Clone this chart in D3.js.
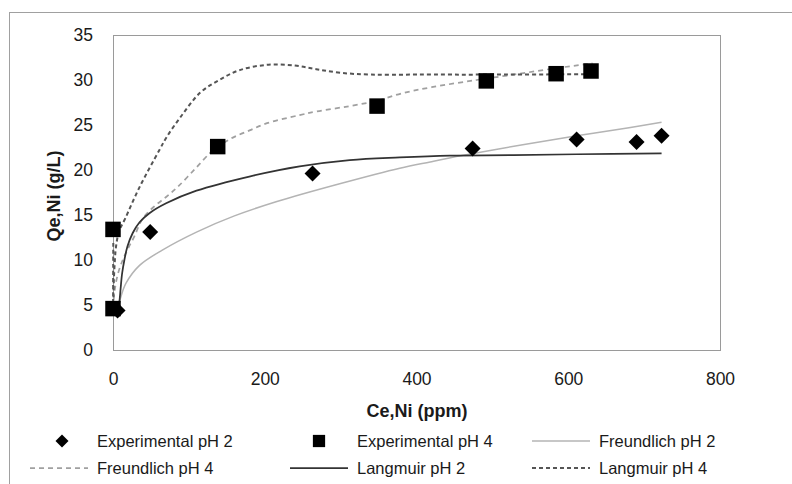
<!DOCTYPE html>
<html>
<head>
<meta charset="utf-8">
<script src="https://cdn.jsdelivr.net/npm/d3@7"></script>
<style>
  body { margin: 0; background: #fff; }
  text { font-family: 'Liberation Sans', Arial, sans-serif; fill: #1a1a1a; }
</style>
</head>
<body>
<div id="chart"></div>
<script>
// experimental points (Ce in ppm, Qe in g/L)
const expPh2C = [6, 49, 263, 474, 611, 690, 723];
const expPh2Q = [4.4, 13.1, 19.6, 22.4, 23.4, 23.1, 23.8];
const expPh4C = [0, 0, 138, 348, 492, 584, 630];
const expPh4Q = [13.4, 4.6, 22.6, 27.1, 29.9, 30.7, 31.0];

// model curves
const freundPh2C = [6, 10, 17, 35, 65, 110, 160, 216, 300, 378, 418, 460, 540, 611, 680, 723];
const freundPh2Q = [4.4, 5.8, 7.4, 9.4, 11.1, 13.1, 14.9, 16.5, 18.5, 20.2, 20.9, 21.6, 22.8, 23.8, 24.7, 25.3];
const langPh2C = [6, 8.3, 10, 12, 15, 19, 26, 35, 48, 70, 110, 181, 246, 312, 378, 444, 523, 611, 723];
const langPh2Q = [4.4, 5.3, 6.8, 8.5, 10, 11.5, 13, 14.2, 15.2, 16.3, 17.7, 19.3, 20.4, 21.1, 21.4, 21.6, 21.65, 21.75, 21.85];
const freundPh4C = [0.3, 1.7, 6, 12.8, 20, 28, 39, 55, 70, 85, 109, 128, 137, 158, 180, 203, 246, 268, 312, 348, 380, 420, 479, 528, 583, 632];
const freundPh4Q = [4.6, 6.3, 8.3, 10, 11.3, 12.6, 14.6, 16.0, 17, 18.1, 20.2, 21.9, 22.5, 23.6, 24.4, 25.2, 26.1, 26.5, 27.1, 27.7, 28.5, 29.2, 30.0, 30.6, 31.3, 31.85];
const langPh4C = [0.4, 0.2, 1, 2.5, 4, 8, 16, 35, 61, 71, 90, 115, 140, 167, 205, 240, 268, 300, 340, 400, 500, 632];
const langPh4Q = [11.9, 4.6, 7.5, 10, 11.5, 13.2, 14.6, 18.1, 22.2, 23.7, 26.0, 28.6, 30.0, 31.1, 31.7, 31.6, 31.2, 30.8, 30.6, 30.6, 30.6, 30.65];

const xTicks = [0, 200, 400, 600, 800];
const yTicks = [0, 5, 10, 15, 20, 25, 30, 35];

const legendLabels = [
  'Experimental pH 2', 'Experimental pH 4', 'Freundlich pH 2',
  'Freundlich pH 4', 'Langmuir pH 2', 'Langmuir pH 4',
];

const config = {
  width: 792,
  height: 484,
  plot: { left: 113, top: 35, right: 720, bottom: 350 },
};

const svg = d3.select('#chart')
  .append('svg')
  .attr('width', config.width)
  .attr('height', config.height);

// outer chart frame (runs off the right / bottom edges)
svg.append('rect')
  .attr('x', 9.5).attr('y', 12.5)
  .attr('width', 820).attr('height', 520)
  .attr('fill', 'none')
  .attr('stroke', '#a0a0a0');

const x = d3.scaleLinear().domain([0, 800]).range([config.plot.left, config.plot.right]);
const y = d3.scaleLinear().domain([0, 35]).range([config.plot.bottom, config.plot.top]);

// plot area border
svg.append('rect')
  .attr('x', config.plot.left + 0.5)
  .attr('y', config.plot.top + 0.5)
  .attr('width', config.plot.right - config.plot.left)
  .attr('height', config.plot.bottom - config.plot.top)
  .attr('fill', 'none')
  .attr('stroke', '#9a9a9a');

// axes (labels only, Excel style)
const yAxis = svg.append('g')
  .attr('transform', `translate(${config.plot.left},0)`)
  .call(d3.axisLeft(y).tickValues(yTicks).tickSize(0).tickPadding(20));
const xAxis = svg.append('g')
  .attr('transform', `translate(0,${config.plot.bottom})`)
  .call(d3.axisBottom(x).tickValues(xTicks).tickSize(0).tickPadding(23));
[yAxis, xAxis].forEach((g) => {
  g.select('.domain').remove();
  g.selectAll('text').style('font-size', '17.5px').attr('fill', '#1a1a1a');
});

// axis titles
svg.append('text')
  .attr('x', 417).attr('y', 417)
  .attr('text-anchor', 'middle')
  .style('font-size', '18px').style('font-weight', 'bold')
  .text('Ce,Ni  (ppm)');

svg.append('text')
  .attr('transform', 'translate(60,196) rotate(-90)')
  .attr('text-anchor', 'middle')
  .style('font-size', '18px').style('font-weight', 'bold')
  .text('Qe,Ni  (g/L)');

// model lines
const series = [
  { c: freundPh2C, q: freundPh2Q, stroke: '#b4b4b4', width: 1.5, dash: null },
  { c: freundPh4C, q: freundPh4Q, stroke: '#a0a0a0', width: 1.75, dash: '5,4' },
  { c: langPh2C, q: langPh2Q, stroke: '#333', width: 1.75, dash: null },
  { c: langPh4C, q: langPh4Q, stroke: '#555', width: 2, dash: '4,3' },
];

const line = d3.line()
  .x((d) => x(d[0]))
  .y((d) => y(d[1]))
  .curve(d3.curveCatmullRom.alpha(0.5));

series.forEach((s) => {
  svg.append('path')
    .datum(s.c.map((c, i) => [c, s.q[i]]))
    .attr('d', line)
    .attr('fill', 'none')
    .attr('stroke', s.stroke)
    .attr('stroke-width', s.width)
    .attr('stroke-dasharray', s.dash);
});

// markers
const diamondPath = 'M0,-8L8,0L0,8L-8,0Z';
const squarePath = d3.symbol(d3.symbolSquare, 240)();

svg.append('g')
  .selectAll('path')
  .data(expPh2C.map((c, i) => [c, expPh2Q[i]]))
  .join('path')
  .attr('d', diamondPath)
  .attr('transform', (d) => `translate(${x(d[0])},${y(d[1])})`)
  .attr('fill', '#000');

svg.append('g')
  .selectAll('path')
  .data(expPh4C.map((c, i) => [c, expPh4Q[i]]))
  .join('path')
  .attr('d', squarePath)
  .attr('transform', (d) => `translate(${x(d[0])},${y(d[1])})`)
  .attr('fill', '#000');

// legend: 3 columns x 2 rows
const keyX = [30, 290, 532];
const keyW = 58;
const rowY = [441, 468];
const legend = svg.append('g');

legendLabels.forEach((label, i) => {
  const col = i % 3;
  const row = Math.floor(i / 3);
  const g = legend.append('g').attr('transform', `translate(${keyX[col]},${rowY[row]})`);
  if (i === 0) {
    g.append('path').attr('d', 'M0,-6.5L6.5,0L0,6.5L-6.5,0Z').attr('transform', `translate(${keyW / 2 + 3},0)`).attr('fill', '#000');
  } else if (i === 1) {
    g.append('path').attr('d', d3.symbol(d3.symbolSquare, 150)()).attr('transform', `translate(${keyW / 2},0)`).attr('fill', '#000');
  } else {
    const s = series[i - 2];
    g.append('line')
      .attr('x1', 0).attr('x2', keyW)
      .attr('stroke', s.stroke)
      .attr('stroke-width', s.width)
      .attr('stroke-dasharray', s.dash);
  }
  g.append('text')
    .attr('x', keyW + 9).attr('y', 6)
    .style('font-size', '16.5px')
    .text(label);
});
</script>
</body>
</html>
